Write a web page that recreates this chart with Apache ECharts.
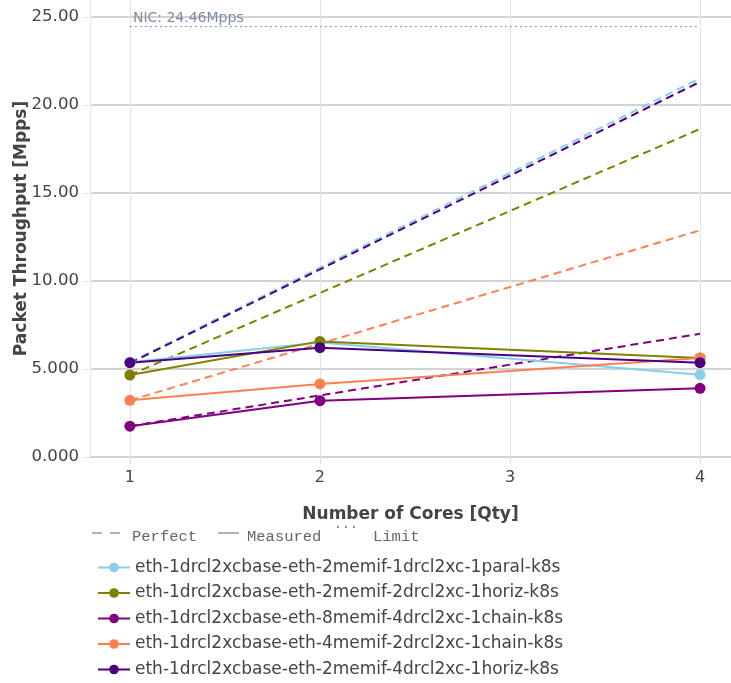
<!DOCTYPE html>
<html><head><meta charset="utf-8">
<script src="https://cdn.jsdelivr.net/npm/echarts@6/dist/echarts.min.js"></script>
<style>html,body{margin:0;padding:0;background:#fff}#c{width:731px;height:683px}</style>
</head><body><div id="c"></div>
<script>
const cores = [1, 2, 4];
const perfectCores = [1, 2, 3, 4];
const names = [
  'eth-1drcl2xcbase-eth-2memif-1drcl2xc-1paral-k8s',
  'eth-1drcl2xcbase-eth-2memif-2drcl2xc-1horiz-k8s',
  'eth-1drcl2xcbase-eth-8memif-4drcl2xc-1chain-k8s',
  'eth-1drcl2xcbase-eth-4memif-2drcl2xc-1chain-k8s',
  'eth-1drcl2xcbase-eth-2memif-4drcl2xc-1horiz-k8s'
];
const colors = ['#87ceeb', '#808000', '#800080', '#ff7f50', '#4b0082'];
const measured = [
  [5.38, 6.50, 4.68],
  [4.66, 6.57, 5.62],
  [1.75, 3.20, 3.90],
  [3.22, 4.15, 5.62],
  [5.36, 6.21, 5.36]
];
const perfect = [
  [5.38, 10.76, 16.14, 21.52],
  [4.66, 9.32, 13.98, 18.64],
  [1.75, 3.50, 5.25, 7.00],
  [3.22, 6.44, 9.66, 12.88],
  [5.33, 10.66, 15.99, 21.32]
];
const nicLimit = 24.46;
const nicLabel = 'NIC: 24.46Mpps';
const xTicks = [1, 2, 3, 4];
const yTicks = [0, 5, 10, 15, 20, 25];
const yTickLabels = ['0.000', '5.000', '10.00', '15.00', '20.00', '25.00'];

const series = [];
names.forEach((n, i) => {
  series.push({
    name: n + ' (perfect)', type: 'line', showSymbol: false, symbol: 'none',
    data: perfectCores.map((c, j) => [c, perfect[i][j]]),
    lineStyle: { color: colors[i], width: 2, type: [8, 5] },
    itemStyle: { color: colors[i] }, z: 2, silent: true
  });
});
names.forEach((n, i) => {
  series.push({
    name: n, type: 'line', symbol: 'circle', symbolSize: 11,
    data: cores.map((c, j) => [c, measured[i][j]]),
    lineStyle: { color: colors[i], width: 2 },
    itemStyle: { color: colors[i] }, z: 3
  });
});
series.push({
  name: 'limit', type: 'line', symbol: 'circle', symbolSize: 0, showSymbol: true, silent: true,
  itemStyle: { color: 'rgba(0,0,0,0)' },
  data: [
    { value: [1, nicLimit], label: { show: true, formatter: nicLabel, position: [3, -15], color: '#7d8ca3', fontSize: 14, fontFamily: 'DejaVu Sans' } },
    [4, nicLimit]
  ],
  lineStyle: { color: '#8393a8', width: 1, type: [2, 3] }, z: 2
});

const mono = '15.5px "Liberation Mono"';
const keyColor = '#666';
const chart = echarts.init(document.getElementById('c'), null, { renderer: 'canvas' });
chart.setOption({
  animation: false,
  textStyle: { fontFamily: 'DejaVu Sans' },
  grid: { left: 90, right: 0, top: 0, bottom: 226, containLabel: false, outerBoundsMode: 'none' },
  xAxis: {
    type: 'value', min: 0.79, max: 4.163,
    axisLine: { show: false },
    axisTick: { show: true, customValues: xTicks, length: 7, lineStyle: { color: '#dddddd' } },
    axisLabel: { customValues: xTicks, color: '#444', fontSize: 16, margin: 13, fontFamily: 'DejaVu Sans' },
    splitLine: { show: true, lineStyle: { color: '#e3e3e3', width: 1 } },
    name: 'Number of Cores [Qty]', nameLocation: 'middle', nameGap: 49,
    nameTextStyle: { fontWeight: 'bold', fontSize: 17, color: '#444', fontFamily: 'DejaVu Sans' }
  },
  yAxis: {
    type: 'value', min: 0, max: 25.97,
    axisLine: { show: true, lineStyle: { color: '#e3e3e3' } },
    axisTick: { show: true, customValues: yTicks, length: 6, lineStyle: { color: '#dddddd' } },
    axisLabel: { customValues: yTicks, color: '#444', fontSize: 16.6, margin: 11, fontFamily: 'DejaVu Sans',
      formatter: v => yTickLabels[yTicks.indexOf(v)] },
    splitLine: { show: true, lineStyle: { color: '#c4c4c4', width: 1.5 } },
    name: 'Packet Throughput [Mpps]', nameLocation: 'middle', nameGap: 60, nameRotate: 90, nameMoveOverlap: false,
    nameTextStyle: { fontWeight: 'bold', fontSize: 17, color: '#444', fontFamily: 'DejaVu Sans' }
  },
  legend: {
    data: names, orient: 'vertical', left: 92, top: 554, height: 130, width: 600,
    itemWidth: 32, itemHeight: 12, itemGap: 8.5,
    textStyle: { fontSize: 17, lineHeight: 17, color: '#444', fontFamily: 'DejaVu Sans' }
  },
  graphic: [
    { type: 'line', shape: { x1: 92, y1: 533, x2: 102, y2: 533 }, style: { stroke: keyColor, lineWidth: 1 } },
    { type: 'line', shape: { x1: 110, y1: 533, x2: 120, y2: 533 }, style: { stroke: keyColor, lineWidth: 1 } },
    { type: 'text', x: 132, y: 537, style: { text: 'Perfect', font: mono, fill: keyColor, verticalAlign: 'middle' } },
    { type: 'line', shape: { x1: 218, y1: 533, x2: 239, y2: 533 }, style: { stroke: keyColor, lineWidth: 1 } },
    { type: 'text', x: 247, y: 537, style: { text: 'Measured', font: mono, fill: keyColor, verticalAlign: 'middle' } },
    { type: 'circle', shape: { cx: 338, cy: 527, r: 1 }, style: { fill: keyColor } },
    { type: 'circle', shape: { cx: 346, cy: 527, r: 1 }, style: { fill: keyColor } },
    { type: 'circle', shape: { cx: 354, cy: 527, r: 1 }, style: { fill: keyColor } },
    { type: 'text', x: 373, y: 537, style: { text: 'Limit', font: mono, fill: keyColor, verticalAlign: 'middle' } }
  ],
  series: series
});
</script></body></html>
